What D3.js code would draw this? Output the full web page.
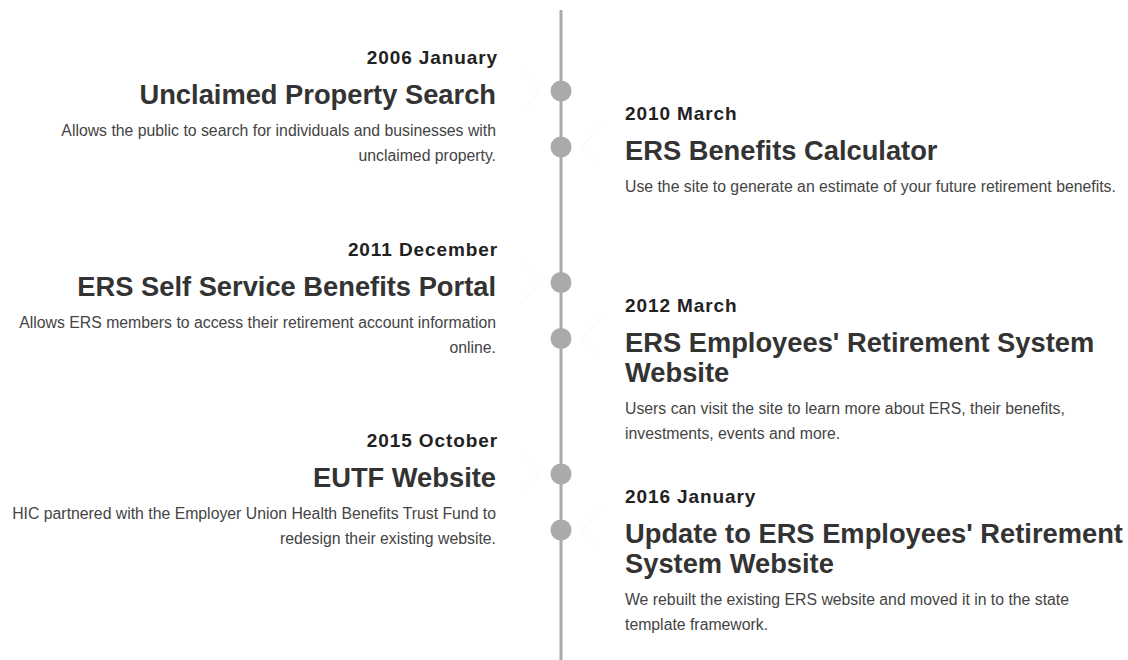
<!DOCTYPE html>
<html><head><meta charset="utf-8">
<script src="https://cdn.jsdelivr.net/npm/d3@7"></script>
<style>
html,body{margin:0;padding:0;background:#fff;}
svg{display:block;}
text{font-family:"Liberation Sans",Arial,Helvetica,sans-serif;}
</style></head>
<body>
<script>
const dates = ["2006 January","2010 March","2011 December","2012 March","2015 October","2016 January"];
const sides = ["left","right","left","right","left","right"];
const titles = [
  ["Unclaimed Property Search"],
  ["ERS Benefits Calculator"],
  ["ERS Self Service Benefits Portal"],
  ["ERS Employees' Retirement System","Website"],
  ["EUTF Website"],
  ["Update to ERS Employees' Retirement","System Website"]
];
const descriptions = [
  ["Allows the public to search for individuals and businesses with","unclaimed property."],
  ["Use the site to generate an estimate of your future retirement benefits."],
  ["Allows ERS members to access their retirement account information","online."],
  ["Users can visit the site to learn more about ERS, their benefits,","investments, events and more."],
  ["HIC partnered with the Employer Union Health Benefits Trust Fund to","redesign their existing website."],
  ["We rebuilt the existing ERS website and moved it in to the state","template framework."]
];

const W = 1128, H = 660;
const svg = d3.select("body").append("svg").attr("width", W).attr("height", H);

const cx = 561;
const yRow = d3.scaleLinear().domain([0, 2]).range([57, 440]);
const sideOffset = {left: 0, right: 56};
const items = dates.map((d, i) => ({
  date: d, side: sides[i], title: titles[i], desc: descriptions[i],
  top: yRow(Math.floor(i / 2)) + sideOffset[sides[i]]
}));

// axis line
svg.append("line").attr("x1", cx).attr("x2", cx).attr("y1", 10).attr("y2", H)
  .attr("stroke", "#aaaaaa").attr("stroke-width", 3);

// chevrons
items.forEach(it => {
  const ty = it.top + 34;
  const pts = it.side === "left"
    ? [[522, ty - 20], [540, ty], [522, ty + 20]]
    : [[600, ty - 20], [582, ty], [600, ty + 20]];
  svg.append("path").attr("d", d3.line()(pts)).attr("fill", "none")
    .attr("stroke", "#e6e6e6").attr("stroke-width", 1).attr("stroke-dasharray", "1,2");
});

// dots
svg.selectAll("circle.dot").data(items).enter().append("circle")
  .attr("class", "dot").attr("cx", cx).attr("cy", d => d.top + 34).attr("r", 10.5)
  .attr("fill", "#aaaaaa");

const g = svg.selectAll("g.item").data(items).enter().append("g").attr("class", "item");
g.each(function(d) {
  const sel = d3.select(this);
  const left = d.side === "left";
  const x = left ? 496 : 625;
  const anchor = left ? "end" : "start";
  sel.append("text").attr("x", left ? x + 2 : x).attr("y", d.top + 7).attr("text-anchor", anchor)
    .attr("font-size", 19).attr("font-weight", "bold").attr("letter-spacing", 0.9)
    .attr("fill", "#222").text(d.date);
  d.title.forEach((t, k) => {
    sel.append("text").attr("x", x).attr("y", d.top + 47 + k * 30).attr("text-anchor", anchor)
      .attr("font-size", 27.3).attr("font-weight", "bold").attr("fill", "#333").text(t);
  });
  const dy0 = d.top + 79 + (d.title.length - 1) * 30;
  d.desc.forEach((t, k) => {
    sel.append("text").attr("x", x).attr("y", dy0 + k * 25).attr("text-anchor", anchor)
      .attr("font-size", 15.8).attr("fill", "#444").text(t);
  });
});
</script>
</body></html>
